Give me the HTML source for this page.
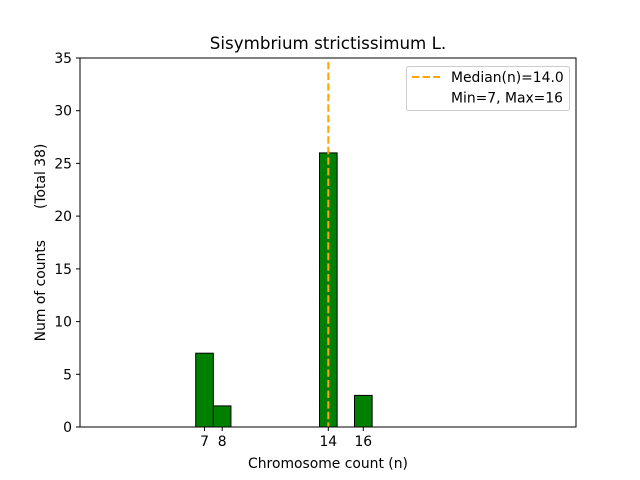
<!DOCTYPE html>
<html><head><style>body{margin:0;background:#fff}svg{display:block}text{font-family:"DejaVu Sans","Liberation Sans",sans-serif;fill:#000}</style></head>
<body>
<svg width="640" height="480" viewBox="0 0 640 480" xmlns="http://www.w3.org/2000/svg">
<rect width="640" height="480" fill="#fff"/>
<g stroke="#000" stroke-width="1" fill="#008000">
<rect x="195.7" y="353.2" width="17.64" height="73.8"/>
<rect x="213.3" y="405.9" width="17.64" height="21.1"/>
<rect x="319.5" y="152.9" width="17.64" height="274.1"/>
<rect x="354.5" y="395.4" width="17.64" height="31.6"/>
</g>
<line x1="80" y1="427" x2="425" y2="427" stroke="#000" stroke-width="1"/>
<line x1="328.3" y1="62" x2="328.3" y2="427" stroke="#ffa500" stroke-width="2" stroke-dasharray="7.4,3.2"/>
<rect x="80" y="58" width="496" height="369" fill="none" stroke="#000" stroke-width="1"/>
<g stroke="#000">
<line x1="204.5" y1="427" x2="204.5" y2="431"/>
<line x1="222.2" y1="427" x2="222.2" y2="431"/>
<line x1="328.3" y1="427" x2="328.3" y2="431"/>
<line x1="363.3" y1="427" x2="363.3" y2="431"/>
<line x1="76" y1="427" x2="80" y2="427"/>
<line x1="76" y1="374.3" x2="80" y2="374.3"/>
<line x1="76" y1="321.6" x2="80" y2="321.6"/>
<line x1="76" y1="268.9" x2="80" y2="268.9"/>
<line x1="76" y1="216.1" x2="80" y2="216.1"/>
<line x1="76" y1="163.4" x2="80" y2="163.4"/>
<line x1="76" y1="110.7" x2="80" y2="110.7"/>
<line x1="76" y1="58" x2="80" y2="58"/>
</g>
<g font-size="13.9" text-anchor="middle">
<text x="204.5" y="446">7</text>
<text x="222.2" y="446">8</text>
<text x="328.3" y="446">14</text>
<text x="363.3" y="446">16</text>
<text x="328" y="468">Chromosome count (n)</text>
</g>
<g font-size="13.9" text-anchor="end">
<text x="72" y="432">0</text>
<text x="72" y="379.3">5</text>
<text x="72" y="326.6">10</text>
<text x="72" y="273.9">15</text>
<text x="72" y="221.1">20</text>
<text x="72" y="168.4">25</text>
<text x="72" y="115.7">30</text>
<text x="72" y="63">35</text>
</g>
<text font-size="13.9" text-anchor="middle" transform="translate(45,242.5) rotate(-90)" xml:space="preserve">Num of counts       (Total 38)</text>
<text x="328" y="49" font-size="16.7" text-anchor="middle">Sisymbrium strictissimum L.</text>
<rect x="406.5" y="66.5" width="163" height="44" rx="2" fill="#fff" stroke="#ccc"/>
<line x1="412" y1="77" x2="440" y2="77" stroke="#ffa500" stroke-width="2" stroke-dasharray="7.4,3.2"/>
<text x="451" y="82" font-size="13.9">Median(n)=14.0</text>
<text x="451" y="102.5" font-size="13.9">Min=7, Max=16</text>
</svg>
</body></html>
